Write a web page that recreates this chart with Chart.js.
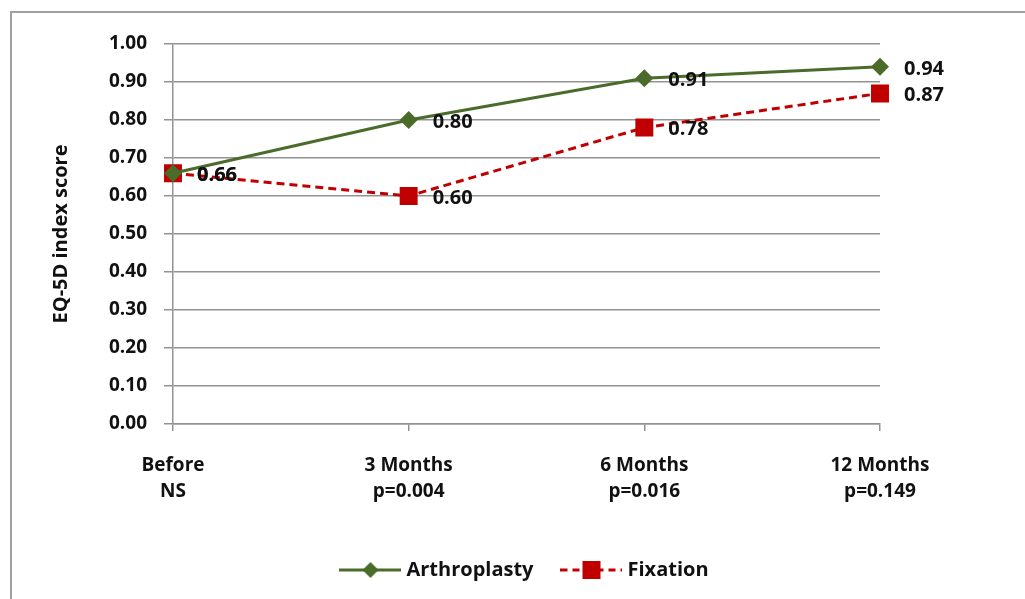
<!DOCTYPE html>
<html>
<head>
<meta charset="utf-8">
<script src="https://cdn.jsdelivr.net/npm/chart.js@4/dist/chart.umd.min.js"></script>
<style>
  html, body { margin: 0; padding: 0; background: #fff; }
  #wrap { width: 1025px; height: 599px; position: relative; }
</style>
</head>
<body>
<div id="wrap"><canvas id="c" width="1025" height="599"></canvas></div>
<script>
const categories = [['Before', 'NS'], ['3 Months', 'p=0.004'], ['6 Months', 'p=0.016'], ['12 Months', 'p=0.149']];
const arthroplasty = [0.66, 0.80, 0.91, 0.94];
const fixation = [0.66, 0.60, 0.78, 0.87];
const seriesNames = ['Arthroplasty', 'Fixation'];
const yAxisTitle = 'EQ-5D index score';

const GREEN = '#4A6B2A';
const RED = '#C00000';
const GRID = '#939393';
const FONT = '"Open Sans", Lato, sans-serif';

function legendIcon(color, dashed, marker) {
  const cv = document.createElement('canvas');
  cv.width = 62; cv.height = 20;
  const g = cv.getContext('2d');
  g.strokeStyle = color; g.lineWidth = 3;
  if (dashed) g.setLineDash([7, 5]);
  g.beginPath(); g.moveTo(0, 10); g.lineTo(62, 10); g.stroke();
  g.setLineDash([]);
  g.fillStyle = color;
  g.beginPath();
  if (marker === 'diamond') {
    g.moveTo(31, 2); g.lineTo(39, 10); g.lineTo(31, 18); g.lineTo(23, 10); g.closePath();
  } else {
    g.rect(22, 1, 18, 18);
  }
  g.fill();
  return cv;
}
const icons = [legendIcon(GREEN, false, 'diamond'), legendIcon(RED, true, 'square')];

const borderPlugin = {
  id: 'outerBorder',
  beforeDraw(chart) {
    const ctx = chart.ctx;
    ctx.save();
    ctx.fillStyle = '#fff';
    ctx.fillRect(0, 0, chart.width, chart.height);
    ctx.strokeStyle = '#a0a0a0';
    ctx.lineWidth = 2;
    ctx.strokeRect(11, 12, chart.width + 20, chart.height + 20);
    ctx.restore();
  }
};

const valueLabels = {
  id: 'valueLabels',
  afterDatasetsDraw(chart) {
    const ctx = chart.ctx;
    ctx.save();
    ctx.font = 'bold 20px ' + FONT;
    ctx.fillStyle = '#111';
    ctx.textAlign = 'left';
    ctx.textBaseline = 'middle';
    chart.data.datasets.forEach((ds, di) => {
      const meta = chart.getDatasetMeta(di);
      meta.data.forEach((pt, i) => {
        ctx.fillText(ds.data[i].toFixed(2), pt.x + 24, pt.y + 2);
      });
    });
    ctx.restore();
  }
};

new Chart(document.getElementById('c'), {
  type: 'line',
  data: {
    labels: categories,
    datasets: [
      {
        label: seriesNames[0],
        data: arthroplasty,
        borderColor: GREEN,
        backgroundColor: GREEN,
        borderWidth: 3,
        pointStyle: 'rectRot',
        pointRadius: 9,
        pointHoverRadius: 9,
        pointBorderWidth: 0,
        tension: 0
      },
      {
        label: seriesNames[1],
        data: fixation,
        borderColor: RED,
        backgroundColor: RED,
        borderWidth: 3,
        borderDash: [8, 5],
        pointStyle: 'rect',
        pointRadius: 12.7,
        pointHoverRadius: 12.7,
        pointBorderWidth: 0,
        tension: 0
      }
    ]
  },
  options: {
    responsive: false,
    animation: false,
    layout: { padding: { left: 11, right: 145, top: 44, bottom: 9 } },
    plugins: {
      tooltip: { enabled: false },
      legend: {
        position: 'bottom',
        fullSize: false,
        labels: {
          usePointStyle: true,
          pointStyleWidth: 52,
          padding: 32,
          color: '#111',
          font: { family: FONT, size: 20, weight: 'bold' },
          generateLabels(chart) {
            return chart.data.datasets.map((ds, i) => ({
              text: ds.label,
              pointStyle: icons[i],
              fillStyle: ds.borderColor,
              strokeStyle: ds.borderColor,
              lineWidth: 0,
              fontColor: '#111',
              hidden: false,
              datasetIndex: i
            }));
          }
        }
      }
    },
    scales: {
      x: {
        type: 'category',
        offset: false,
        afterFit(s) { s.height = 104; },
        grid: { drawOnChartArea: false, drawTicks: true, tickLength: 7, color: GRID, lineWidth: 1.5 },
        border: { display: true, color: GRID, width: 1.5 },
        ticks: {
          color: '#111',
          padding: 21,
          maxRotation: 0,
          autoSkip: false,
          font: { family: FONT, size: 19, weight: 'bold', lineHeight: 1.4 }
        }
      },
      y: {
        min: 0,
        max: 1,
        afterFit(s) { s.width = 162; },
        grid: { color: GRID, lineWidth: 1.5, tickLength: 9 },
        border: { display: true, color: GRID, width: 1.5 },
        ticks: {
          stepSize: 0.1,
          color: '#111',
          padding: 17,
          font: { family: FONT, size: 19, weight: 'bold' },
          callback: v => Number(v).toFixed(2)
        },
        title: {
          display: true,
          text: yAxisTitle,
          color: '#111',
          padding: { top: 38, bottom: 0 },
          font: { family: FONT, size: 20, weight: 'bold' }
        }
      }
    }
  },
  plugins: [borderPlugin, valueLabels]
});
</script>
</body>
</html>
